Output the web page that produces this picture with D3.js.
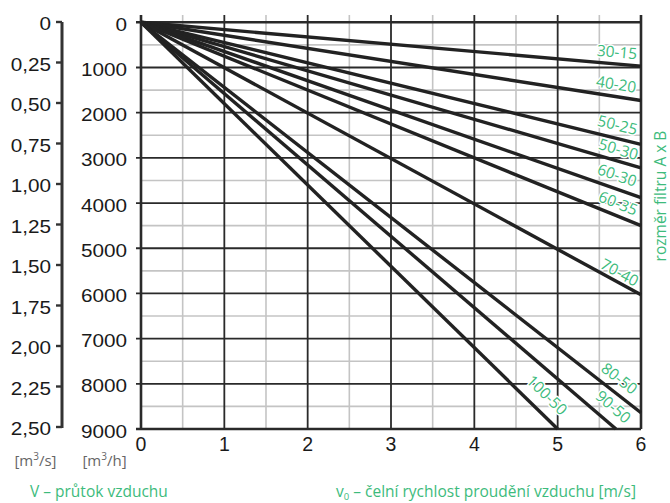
<!DOCTYPE html>
<html>
<head>
<meta charset="utf-8">
<script src="https://cdn.jsdelivr.net/npm/d3@7"></script>
<style>
  html, body { margin: 0; padding: 0; background: #fff; }
  svg { display: block; }
</style>
</head>
<body>
<svg id="chart" width="670" height="503"></svg>
<script>
// ---------------- data ----------------
const filterSizes   = ["30-15", "40-20", "50-25", "50-30", "60-30", "60-35", "70-40", "80-50", "90-50", "100-50"];
const endVelocity   = [6, 6, 6, 6, 6, 6, 6, 6, 5.7, 5.0];            // m/s
const endFlow       = [970, 1730, 2700, 3220, 3880, 4500, 6030, 8640, 9000, 9000]; // m3/h
const velocityTicks = [0, 1, 2, 3, 4, 5, 6];
const flowTicks     = [0, 1000, 2000, 3000, 4000, 5000, 6000, 7000, 8000, 9000];
const flowSecTicks  = [0, 0.25, 0.5, 0.75, 1.0, 1.25, 1.5, 1.75, 2.0, 2.25, 2.5];
const flowSecLabels = ["0", "0,25", "0,50", "0,75", "1,00", "1,25", "1,50", "1,75", "2,00", "2,25", "2,50"];

// label placement (along line, in m/s) and perpendicular offset
const labelAt     = [5.70, 5.68, 5.68, 5.69, 5.66, 5.67, 5.69, 5.64, 5.55, 4.73];
const labelOffset = [12.0, 12.3, 13.3, 11.6, 13.4, 12.2, 9.6, 13.8, 15.2, 17.0];

// ---------------- layout ----------------
const svg = d3.select("#chart");
const GREEN = "#3dbb7c";
const x  = d3.scaleLinear().domain([0, 6]).range([141, 641]);
const y  = d3.scaleLinear().domain([0, 9000]).range([22.3, 429]);
const yS = d3.scaleLinear().domain([0, 2.5]).range([22, 427]);
const gridTop = 15;

// minor grid
const minorX = d3.range(0.5, 6, 1);
const minorY = d3.range(500, 9000, 1000);
svg.append("g").selectAll("line").data(minorX).join("line")
  .attr("x1", d => x(d)).attr("x2", d => x(d))
  .attr("y1", gridTop).attr("y2", y(9000))
  .attr("stroke", "#c4c4c4").attr("stroke-width", 1.6);
svg.append("g").selectAll("line").data(minorY).join("line")
  .attr("x1", x(0)).attr("x2", x(6))
  .attr("y1", d => y(d)).attr("y2", d => y(d))
  .attr("stroke", "#c4c4c4").attr("stroke-width", 1.6);

// major grid
svg.append("g").selectAll("line").data(velocityTicks).join("line")
  .attr("x1", d => x(d)).attr("x2", d => x(d))
  .attr("y1", gridTop).attr("y2", y(9000))
  .attr("stroke", "#2a2a2a").attr("stroke-width", d => (d === 0 || d === 6) ? 2.6 : 1.8);
svg.append("g").selectAll("line").data(flowTicks).join("line")
  .attr("x1", x(0) - 5).attr("x2", x(6))
  .attr("y1", d => y(d)).attr("y2", d => y(d))
  .attr("stroke", "#2a2a2a").attr("stroke-width", d => (d === 0 || d === 9000) ? 2.4 : 1.8);

// series lines
const line = d3.line().x(d => x(d[0])).y(d => y(d[1]));
const series = filterSizes.map((name, i) => ({
  name, pts: [[0, 0], [endVelocity[i], endFlow[i]]], i
}));
svg.append("g").selectAll("path").data(series).join("path")
  .attr("d", d => line(d.pts))
  .attr("fill", "none").attr("stroke", "#222").attr("stroke-width", 3.4)
  .attr("stroke-linecap", "butt");

// series labels
svg.append("g").selectAll("text").data(series).join("text")
  .each(function(d) {
    const x0 = x(0), y0 = y(0);
    const x1 = x(d.pts[1][0]), y1 = y(d.pts[1][1]);
    const len = Math.hypot(x1 - x0, y1 - y0);
    const ux = (x1 - x0) / len, uy = (y1 - y0) / len;
    const v = labelAt[d.i];
    const px = x(v), py = y(d.pts[1][1] * v / d.pts[1][0]);
    const off = labelOffset[d.i];
    const lx = px + uy * off, ly = py - ux * off;
    const ang = Math.atan2(y1 - y0, x1 - x0) * 180 / Math.PI;
    d3.select(this)
      .attr("transform", `translate(${lx},${ly}) rotate(${ang})`);
  })
  .attr("text-anchor", "middle").attr("dy", "0.36em")
  .attr("font-family", "'Open Sans', sans-serif").attr("font-size", 15.5)
  .attr("fill", GREEN)
  .attr("stroke", "#fff").attr("stroke-width", 3).attr("paint-order", "stroke")
  .attr("stroke-linejoin", "round")
  .text(d => d.name);

// ---- left m3/h tick labels ----
const tickFont = "'Liberation Sans', Arial, sans-serif";
svg.append("g").selectAll("text").data(flowTicks).join("text")
  .attr("transform", d => `translate(127,${y(d) + 2}) scale(1.12,1)`)
  .attr("text-anchor", "end").attr("dominant-baseline", "central")
  .attr("font-family", tickFont).attr("font-size", 18.5).attr("fill", "#1a1a1a")
  .text(d => d);

// ---- m3/s axis ----
svg.append("line").attr("x1", 62).attr("x2", 62)
  .attr("y1", yS(0)).attr("y2", yS(2.5) + 1)
  .attr("stroke", "#333").attr("stroke-width", 3);
svg.append("g").selectAll("line").data(flowSecTicks).join("line")
  .attr("x1", 56).attr("x2", 62)
  .attr("y1", d => yS(d)).attr("y2", d => yS(d))
  .attr("stroke", "#333").attr("stroke-width", 2.4);
svg.append("g").selectAll("text").data(flowSecTicks).join("text")
  .attr("transform", d => `translate(51,${yS(d) + 1.5}) scale(1.12,1)`)
  .attr("text-anchor", "end").attr("dominant-baseline", "central")
  .attr("font-family", tickFont).attr("font-size", 18.5).attr("fill", "#1a1a1a")
  .text((d, i) => flowSecLabels[i]);

// ---- bottom velocity labels ----
svg.append("g").selectAll("text").data(velocityTicks).join("text")
  .attr("x", d => x(d)).attr("y", 451)
  .attr("text-anchor", "middle")
  .attr("font-family", tickFont).attr("font-size", 19.5).attr("fill", "#1a1a1a")
  .text(d => d);

// ---- units ----
const unitFont = "'Open Sans', sans-serif";
const u1 = svg.append("text").attr("x", 35.5).attr("y", 466)
  .attr("text-anchor", "middle").attr("font-family", unitFont)
  .attr("font-size", 15).attr("fill", "#666");
u1.append("tspan").text("[m");
u1.append("tspan").attr("dy", -6).attr("font-size", 10).text("3");
u1.append("tspan").attr("dy", 6).text("/s]");
const u2 = svg.append("text").attr("x", 104.5).attr("y", 466)
  .attr("text-anchor", "middle").attr("font-family", unitFont)
  .attr("font-size", 15).attr("fill", "#666");
u2.append("tspan").text("[m");
u2.append("tspan").attr("dy", -6).attr("font-size", 10).text("3");
u2.append("tspan").attr("dy", 6).text("/h]");

// ---- axis titles ----
svg.append("text").attr("x", 30).attr("y", 497)
  .attr("font-family", unitFont).attr("font-size", 15.5).attr("fill", GREEN)
  .text("V – průtok vzduchu");
const t2 = svg.append("text").attr("x", 636).attr("y", 497)
  .attr("text-anchor", "end")
  .attr("font-family", unitFont).attr("font-size", 15.5).attr("fill", GREEN);
t2.append("tspan").text("v");
t2.append("tspan").attr("dy", 2.5).attr("font-size", 9.5).text("0");
t2.append("tspan").attr("dy", -2.5).text(" – čelní rychlost proudění vzduchu [m/s]");

svg.append("text")
  .attr("transform", "translate(665.5,196) rotate(-90)")
  .attr("text-anchor", "middle")
  .attr("font-family", unitFont).attr("font-size", 15.5).attr("fill", GREEN)
  .text("rozměr filtru A x B");
</script>
</body>
</html>
